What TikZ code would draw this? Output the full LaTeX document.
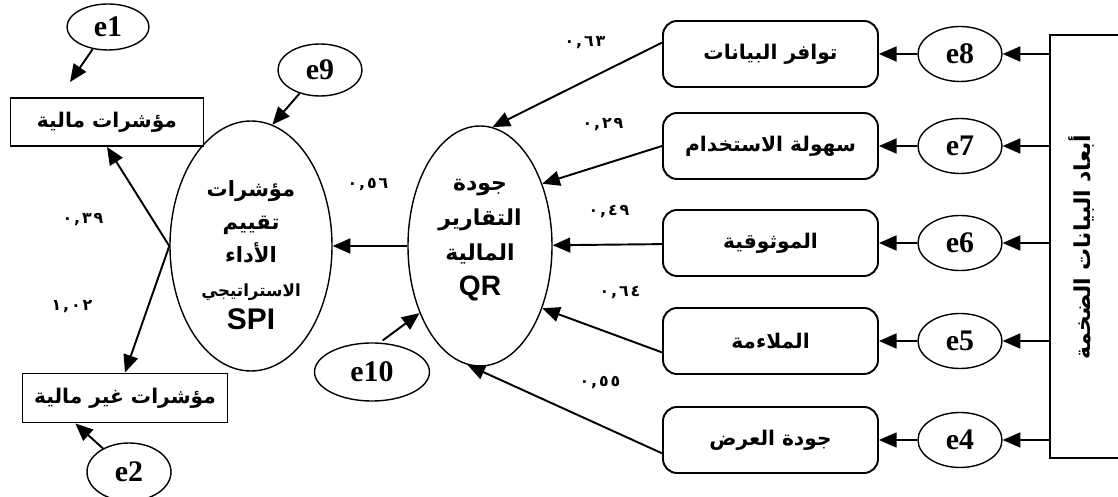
\documentclass[tikz,border=0pt]{standalone}
\usepackage{fontspec}
\usepackage{tikz}
\usetikzlibrary{shapes.geometric,arrows.meta,calc}
\setmainfont{Liberation Serif}
\newfontfamily\arfont[Script=Arabic]{DejaVu Sans}
\newfontfamily\numfont[LetterSpace=12]{DejaVu Sans}
\newfontfamily\hvfont{Liberation Sans}
\TeXXeTstate=1
\newcommand{\artext}[1]{\beginR #1\endR}

\begin{document}
\begin{tikzpicture}[
        arr/.style={-{Triangle[length=10pt,width=8.5pt]}, line width=1.1pt},
        err/.style={draw, ellipse, line width=0.8pt, minimum width=1.68cm, minimum height=1.1cm, inner sep=0pt, font=\bfseries\fontsize{17}{17}\selectfont},
        indbox/.style={draw, rectangle, line width=1.1pt, inner sep=0pt, font=\arfont\bfseries\fontsize{11.5}{11.5}\selectfont},
        dimbox/.style={draw, rectangle, rounded corners=8pt, line width=1.1pt, minimum width=4.30cm, minimum height=1.32cm, inner sep=0pt, font=\arfont\bfseries\fontsize{11.5}{11.5}\selectfont},
        latent/.style={draw, ellipse, line width=0.8pt, inner sep=0pt},
        coef/.style={font=\numfont\bfseries\fontsize{9}{9}\selectfont}
    ]
        \useasboundingbox (0,0) rectangle (22.36,-9.94);
        % left part
        \node[err, minimum width=1.64cm, minimum height=0.92cm](e1) at (2.16,-0.54) {e1};
        \node[indbox, minimum width=3.86cm, minimum height=0.96cm](b1) at (2.14,-2.44) {\artext{مؤشرات مالية}};
        \node[err, minimum height=1.04cm](e9) at (6.40,-1.40) {e9};
        \node[latent, minimum width=3.24cm, minimum height=5.0cm](spi) at (5.02,-4.92) {};
        \node[align=center, font=\arfont\bfseries\fontsize{12}{19}\selectfont](spitxt) at ($(spi)+(0,-0.18)$)
            {\artext{مؤشرات}\\ \artext{تقييم}\\ \artext{الأداء}\\ {\fontsize{9.5}{19}\selectfont\artext{الاستراتيجي}}\\ {\hvfont\fontsize{17}{19}\selectfont SPI}};
        \node[indbox, minimum width=4.10cm, minimum height=0.98cm](b2) at (2.50,-7.96) {\artext{مؤشرات غير مالية}};
        \node[err, minimum height=1.16cm](e2) at (2.58,-9.44) {e2};
        \node[err, minimum width=2.30cm, minimum height=1.16cm](e10) at (7.44,-7.44) {e10};
        \node[latent, minimum width=2.88cm, minimum height=4.80cm](qr) at (9.60,-4.92) {};
        \node[align=center, font=\arfont\bfseries\fontsize{12.5}{20}\selectfont](qrtxt) at ($(qr)+(0,0.12)$)
            {\artext{جودة}\\ \artext{التقارير}\\ \artext{المالية}\\ {\hvfont\fontsize{16}{20}\selectfont QR}};
        \coordinate(t1) at (1.40,-1.64);
        % right part
        \node[dimbox](b8) at (15.41,-1.08) {\artext{توافر البيانات}};
        \node[dimbox](b7) at (15.41,-2.92) {\artext{سهولة الاستخدام}};
        \node[dimbox](b6) at (15.41,-4.86) {\artext{الموثوقية}};
        \node[dimbox](b5) at (15.41,-6.82) {\artext{الملاءمة}};
        \node[dimbox](b4) at (15.41,-8.80) {\artext{جودة العرض}};
        \node[err](e8) at (19.20,-1.08) {e8};
        \node[err](e7) at (19.20,-2.92) {e7};
        \node[err](e6) at (19.20,-4.86) {e6};
        \node[err](e5) at (19.20,-6.82) {e5};
        \node[err](e4) at (19.20,-8.80) {e4};
        \node[draw, line width=1.1pt, minimum width=1.6cm, minimum height=8.46cm, inner sep=0pt](bd) at (21.80,-4.93) {};
        \node[rotate=90, font=\arfont\bfseries\fontsize{12.5}{12.5}\selectfont](bdlbl) at (21.62,-4.94) {\artext{أبعاد البيانات الضخمة}};
        % coefficients
        \node[coef](c63) at (11.70,-0.86) {٠,٦٣};
        \node[coef](c29) at (12.06,-2.50) {٠,٢٩};
        \node[coef](c49) at (12.18,-4.24) {٠,٤٩};
        \node[coef](c64) at (12.40,-5.86) {٠,٦٤};
        \node[coef](c55) at (12.00,-7.66) {٠,٥٥};
        \node[coef](c56) at (7.36,-3.70) {٠,٥٦};
        \node[coef](c39) at (1.66,-4.40) {٠,٣٩};
        \node[coef](c102) at (1.44,-6.14) {١,٠٢};
        % arrows
        \draw[arr](e1)--(t1);
        \draw[arr](e9)--(spi.80);
        \draw[arr](spi.west)--(b1.south);
        \draw[arr](spi.west)--(b2.north);
        \draw[arr](e2)--($(b2.south west)!0.26!(b2.south east)$);
        \draw[arr, shorten <=2pt](e10.75)--(qr.228);
        \draw[arr](qr)--(spi);
        \draw[arr](b8.174)--(qr.84);
        \draw[arr](b7.west)--(qr.45);
        \draw[arr](b6)--(qr);
        \draw[arr](b5.186)--(qr.-45);
        \draw[arr](b4.187)--(qr.264);
        \draw[arr](e8)--(b8);
        \draw[arr](e7)--(b7);
        \draw[arr](e6)--(b6);
        \draw[arr](e5)--(b5);
        \draw[arr](e4)--(b4);
        \draw[arr](e8 -| bd.west)--(e8);
        \draw[arr](e7 -| bd.west)--(e7);
        \draw[arr](e6 -| bd.west)--(e6);
        \draw[arr](e5 -| bd.west)--(e5);
        \draw[arr](e4 -| bd.west)--(e4);
        \end{tikzpicture}
\end{document}
